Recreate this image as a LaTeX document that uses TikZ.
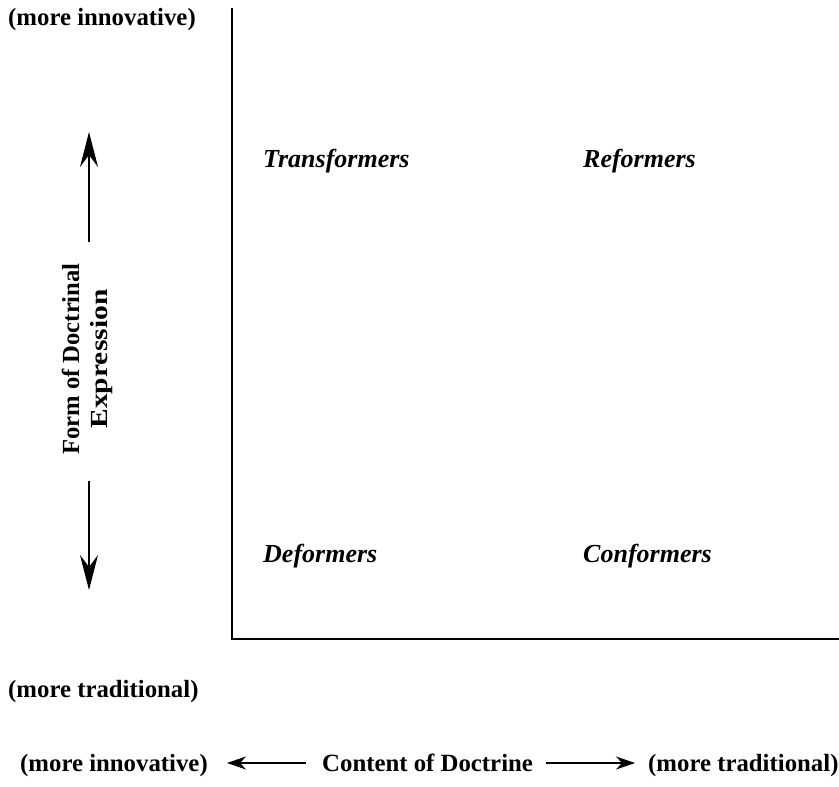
\documentclass[tikz,border=0pt]{standalone}
\usepackage{fontspec}
\setmainfont{Liberation Serif}
\usetikzlibrary{arrows.meta}
\begin{document}
\begin{tikzpicture}[x=1pt,y=-1pt,
 lbl/.style={font=\fontsize{24.8}{30}\selectfont\bfseries, inner sep=0pt, anchor=base west},
 quad/.style={font=\fontsize{26}{30}\selectfont\bfseries\itshape, inner sep=0pt, anchor=base west},
 vlbl/.style={font=\fontsize{24.6}{30}\selectfont\bfseries, inner sep=0pt, rotate=90, anchor=base},
 axis/.style={line width=1.8pt},
 bigarrow/.style={line width=1.1pt, -{Stealth[length=35pt,width=18pt,inset=12pt]}},
 smallarrow/.style={line width=1.1pt, -{Stealth[length=19pt,width=13pt,inset=6pt]}}]
\useasboundingbox (0,0) rectangle (839,787);
% axes
\coordinate (top) at (232,8);
\coordinate (origin) at (232,639);
\coordinate (right) at (839,639);
\draw[axis] (top) -- (origin) -- (right);
% labels
\node[lbl] (inn) at (8,25) {(more innovative)};
\node[lbl] (trad) at (8,697) {(more traditional)};
\node[vlbl] (form) at (79,359) {Form of Doctrinal};
\node[vlbl] (expr) at (107,359) {\scalebox{1.2}[1]{Expression}};
\coordinate (upS) at (89,242);
\coordinate (upT) at (89,132);
\coordinate (dnS) at (89,481);
\coordinate (dnT) at (89,590);
\draw[bigarrow] (upS) -- (upT);
\draw[bigarrow] (dnS) -- (dnT);
% quadrants
\node[quad] (tf) at (263,167) {Transformers};
\node[quad] (rf) at (583,167) {Reformers};
\node[quad] (df) at (263,562) {Deformers};
\node[quad] (cf) at (583,562) {Conformers};
% bottom row
\node[lbl] (binn) at (20,771) {(more innovative)};
\node[lbl] (cod) at (322,771) {Content of Doctrine};
\node[lbl] (btrad) at (648,771) {(more traditional)};
\coordinate (lS) at (306,763);
\coordinate (lT) at (227,763);
\coordinate (rS) at (546,763);
\coordinate (rT) at (635,763);
\draw[smallarrow] (lS) -- (lT);
\draw[smallarrow] (rS) -- (rT);
\end{tikzpicture}
\end{document}
